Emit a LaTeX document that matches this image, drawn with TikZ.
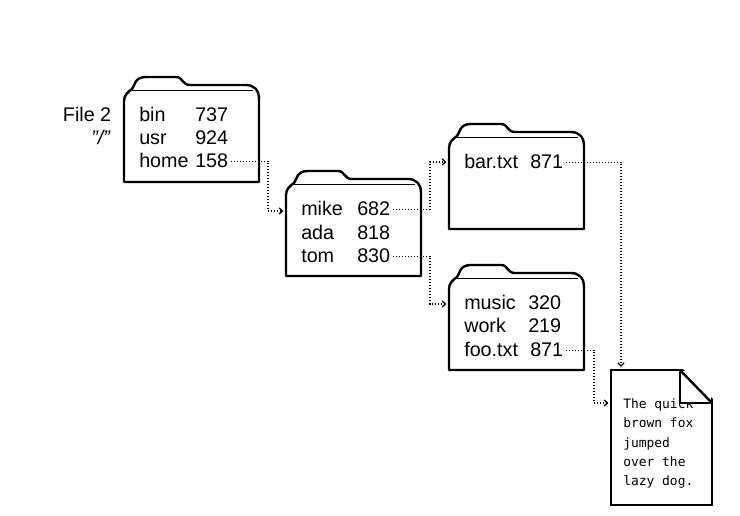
\documentclass[tikz,border=0pt]{standalone}
\usepackage{fontspec}
\setmainfont{Liberation Sans}
\setmonofont{DejaVu Sans Mono}
\usetikzlibrary{arrows.meta,calc}

\tikzset{
    entry/.style={anchor=base west, inner sep=0pt, font=\fontsize{14.8}{17}\selectfont},
    addr/.style={entry, text height=10.3pt, text depth=0pt},
    outline/.style={line width=1.8pt, line join=round, fill=white},
    link/.style={line width=0.9pt, dash pattern=on 0.9pt off 1.35pt, shorten <=2pt,
        -{Straight Barb[length=2.4pt,width=4.6pt,line width=1pt]}},
    folderbox/.style={anchor=north west, inner sep=0pt, minimum width=101.25pt, minimum height=78.75pt},
    pics/folder/.style={code={
        \draw[outline] (0,105) -- (0,24) .. controls (0,18) and (4,15) .. (8,12)
            .. controls (11,9) and (10,0) .. (22,0) -- (52,0)
            .. controls (59,0) and (58,8) .. (66,8) -- (122,8)
            .. controls (130,8) and (135,13) .. (135,22) -- (135,105) -- cycle;
        \draw[line width=0.8pt] (8,13.5) -- (129,13.5);
    }},
}

\begin{document}
\begin{tikzpicture}[x=0.75pt,y=-0.75pt]
    \useasboundingbox (0,0) rectangle (740,516);

    % folders
    \foreach \name/\x/\y in {rootdir/124/77, homedir/286/171, tomdir/449/265, mikedir/449/124} {
        \node[folderbox] (\name) at (\x,\y) {};
        \pic at (\name.north west) {folder};
    }

    \node[entry, anchor=base east] (filename) at (111.5,122) {File 2};
    \node[entry, anchor=base east] (rootname) at (111,145) {\textit{"/"}};

    % directory entries
    \foreach \label/\num/\key/\x/\xx/\y in {
        bin/737/bin/139/195/122, usr/924/usr/139/195/145, home/158/home/139/195/168,
        mike/682/mike/301/357/216, ada/818/ada/301/357/240, tom/830/tom/301/357/263,
        bar.txt/871/bar/464/530/169,
        music/320/music/464/528/310, work/219/work/464/528/333, foo.txt/871/foo/464/530/357} {
        \node[entry] (\key name) at (\x,\y) {\label};
        \node[addr] (\key addr) at (\xx,\y) {\num};
    }

    % text file
    \node[anchor=north west, inner sep=0pt, outer sep=0pt, minimum width=75.75pt, minimum height=101.25pt,
        draw, line width=1.8pt, fill=white] (textfile) at (611,370) {};
    \node[anchor=north west, inner sep=0pt, align=left,
        font=\ttfamily\fontsize{9.7}{14.6}\selectfont] (filetext) at (623,398)
        {The quick\\brown fox\\jumped\\over the\\lazy dog.};
    \fill[white] (680,370) -- (712,403) -- (680,403) -- cycle;
    \draw[line width=0.8pt] (680,370) -- (680,403) -- (712,403);
    \fill[white] (681,367) -- (716,367) -- (716,402) -- cycle;
    \draw[line width=1.8pt, line join=round] (680,370) -- (712,403);

    % connectors
    \coordinate (homebend) at (268,211);
    \coordinate (mikebend) at (430,162);
    \coordinate (tombend) at (430,304);
    \coordinate (barbend) at (621,367);
    \coordinate (foobend) at (594,403);
    \draw[link, shorten >=2pt] (homeaddr.east) -| (homebend) -- (homedir.west |- homebend);
    \draw[link, shorten >=2pt] (mikeaddr.east) -| (mikebend) -- (mikedir.west |- mikebend);
    \draw[link, shorten >=2pt] (tomaddr.east) -| (tombend) -- (tomdir.west |- tombend);
    \draw[link] (baraddr.east) -| (barbend);
    \draw[link, shorten >=2pt] (fooaddr.east) -| (foobend) -- (textfile.west |- foobend);
\end{tikzpicture}
\end{document}
